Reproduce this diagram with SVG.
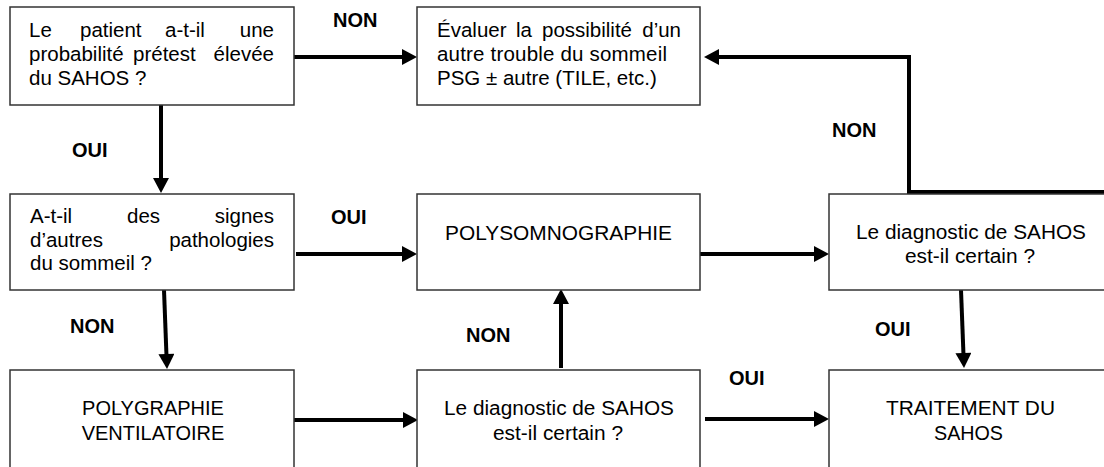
<svg xmlns="http://www.w3.org/2000/svg" width="1104" height="467" viewBox="0 0 1104 467">
<style>
.box{fill:#fff;stroke:#333;stroke-width:1.5}
.t{font-family:"Liberation Sans",Arial,sans-serif;font-size:20.5px;fill:#000}
.n{font-family:"Liberation Sans",Arial,sans-serif;font-size:20px;fill:#000}
.lbl{font-family:"Liberation Sans",Arial,sans-serif;font-size:20px;font-weight:bold;fill:#000}
.c{stroke:#000;stroke-width:4;fill:none;marker-end:url(#ah)}
</style>
<defs>
<marker id="ah" markerUnits="userSpaceOnUse" markerWidth="16" markerHeight="16" viewBox="0 0 15 16" refX="7" refY="8" orient="auto">
<path d="M0,0 L15,8 L0,16 z" fill="#000"/>
</marker>
</defs>
<rect width="1104" height="467" fill="#fff"/>
<g id="connectors">
<path class="c" d="M294,57 H409"/>
<path class="c" d="M1110,192 H909 V57 H712" stroke-linejoin="miter"/>
<path class="c" d="M161,105 V185"/>
<path class="c" d="M296,254 H409"/>
<path class="c" d="M700,254 H821"/>
<path class="c" d="M164,290 L166.7,361"/>
<path class="c" d="M294,420 H410"/>
<path class="c" d="M561,368 V297"/>
<path class="c" d="M705,419 H821"/>
<path class="c" d="M961,290 L963.7,360"/>
<g id="labels">
<text class="lbl" x="333" y="27">NON</text>
<text class="lbl" x="72" y="157">OUI</text>
<text class="lbl" x="331" y="224">OUI</text>
<text class="lbl" x="70" y="333">NON</text>
<text class="lbl" x="832" y="137">NON</text>
<text class="lbl" x="466" y="342">NON</text>
<text class="lbl" x="729" y="385">OUI</text>
<text class="lbl" x="875" y="336">OUI</text>
</g>
</g>
<g id="nodeA">
<rect class="box" x="10" y="7" width="284" height="98"/>
<text class="t" y="37"><tspan x="29">Le</tspan><tspan x="80">patient</tspan><tspan x="165">a-t-il</tspan><tspan x="274" text-anchor="end">une</tspan></text>
<text class="t" y="61"><tspan x="29">probabilité</tspan><tspan x="133">prétest</tspan><tspan x="274" text-anchor="end">élevée</tspan></text>
<text class="t" x="29" y="85">du SAHOS ?</text>
</g>
<g id="nodeB">
<rect class="box" x="417" y="7" width="283" height="98"/>
<text class="t" y="37"><tspan x="437">Évaluer</tspan><tspan x="516">la</tspan><tspan x="542">possibilité</tspan><tspan x="681" text-anchor="end">d’un</tspan></text>
<text class="t" x="437" y="61" textLength="230" lengthAdjust="spacing">autre trouble du sommeil</text>
<text class="t" x="437" y="85">PSG ± autre (TILE, etc.)</text>
</g>
<g id="nodeC">
<rect class="box" x="10" y="194" width="284" height="96"/>
<text class="t" y="223"><tspan x="30">A-t-il</tspan><tspan x="127">des</tspan><tspan x="274" text-anchor="end">signes</tspan></text>
<text class="t" y="247"><tspan x="30">d’autres</tspan><tspan x="274" text-anchor="end">pathologies</tspan></text>
<text class="t" x="30" y="270">du sommeil ?</text>
</g>
<g id="nodeD">
<rect class="box" x="417" y="194" width="283" height="96"/>
<text class="n" x="445" y="240" textLength="227" lengthAdjust="spacingAndGlyphs">POLYSOMNOGRAPHIE</text>
</g>
<g id="nodeE">
<rect class="box" x="829" y="194" width="285" height="96"/>
<text class="n" x="856" y="239" textLength="230" lengthAdjust="spacingAndGlyphs">Le diagnostic de SAHOS</text>
<text class="n" x="905" y="263" textLength="130" lengthAdjust="spacingAndGlyphs">est-il certain ?</text>
</g>
<g id="nodeF">
<rect class="box" x="10" y="370" width="284" height="110"/>
<text class="n" x="153" y="415" text-anchor="middle">POLYGRAPHIE</text>
<text class="n" x="153" y="440" text-anchor="middle">VENTILATOIRE</text>
</g>
<g id="nodeG">
<rect class="box" x="417" y="370" width="283" height="110"/>
<text class="n" x="444" y="415" textLength="230" lengthAdjust="spacingAndGlyphs">Le diagnostic de SAHOS</text>
<text class="n" x="493" y="440" textLength="130" lengthAdjust="spacingAndGlyphs">est-il certain ?</text>
</g>
<g id="nodeH">
<rect class="box" x="829" y="370" width="285" height="110"/>
<text class="n" x="886" y="415" textLength="169" lengthAdjust="spacingAndGlyphs">TRAITEMENT DU</text>
<text class="n" x="934" y="440" textLength="69" lengthAdjust="spacingAndGlyphs">SAHOS</text>
</g>
</svg>
